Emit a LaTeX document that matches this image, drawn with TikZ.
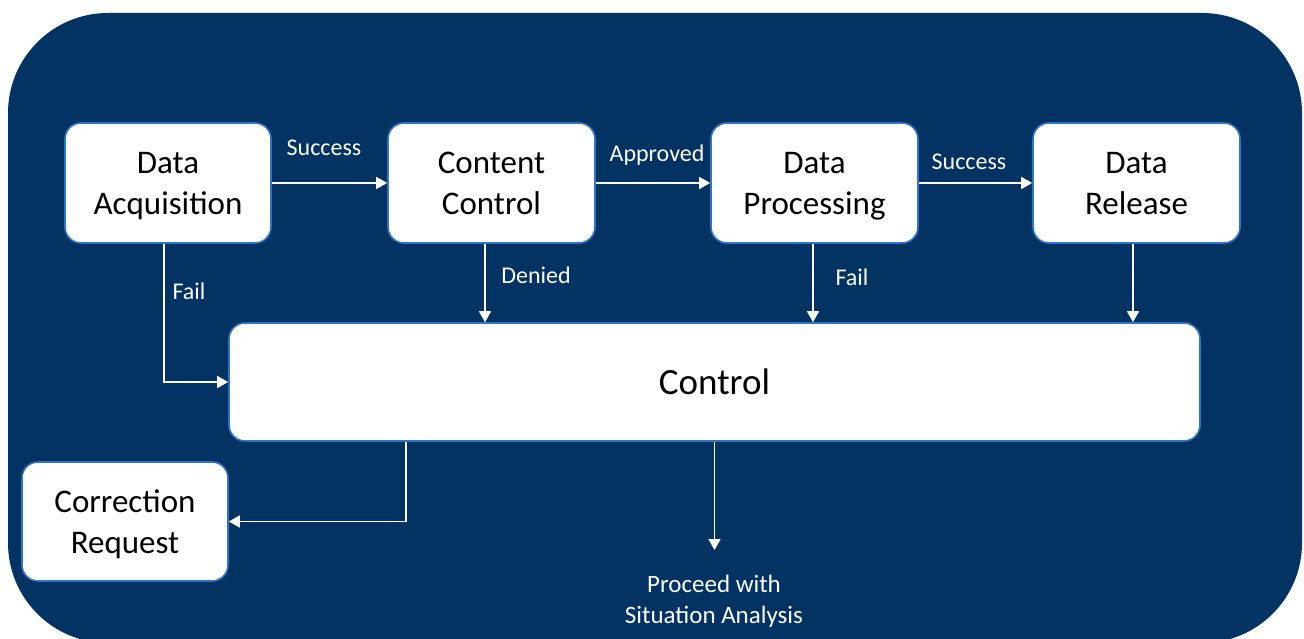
\documentclass[tikz,border=0pt]{standalone}
\usepackage{fontspec}
\setmainfont{Carlito}
\usetikzlibrary{arrows.meta}
\definecolor{navy}{RGB}{3,51,99}
\definecolor{boxblue}{RGB}{46,117,200}
\newcommand\bxs{\rule[-9pt]{0pt}{41pt}}
\tikzset{
  box/.style={draw=boxblue, line width=1.6pt, fill=white, rounded corners=16pt, align=center, text=black, inner sep=0pt,
    font=\fontsize{33}{41}\selectfont},
  arr/.style={draw=white, line width=1.6pt, -{Triangle[width=12pt,length=11pt]}},
  lbl/.style={text=white, font=\fontsize{24}{28}\selectfont, inner sep=0pt},
}
\begin{document}
\begin{tikzpicture}[x=1pt,y=-1pt]
\useasboundingbox (0,0) rectangle (1304,639);
\begin{scope}
\clip (0,0) rectangle (1304,639);
\fill[navy, rounded corners=100pt] (8,13) rectangle (1302,643);
\end{scope}
\node[box, minimum width=206pt, minimum height=120pt] (da) at (168,183) {Data\bxs\\Acquisition\bxs};
\node[box, minimum width=207pt, minimum height=120pt] (cc) at (491.5,183) {Content\bxs\\Control\bxs};
\node[box, minimum width=207pt, minimum height=120pt] (dp) at (814.5,183) {Data\bxs\\Processing\bxs};
\node[box, minimum width=207pt, minimum height=120pt] (dr) at (1136.5,183) {Data\bxs\\Release\bxs};
\node[box, minimum width=971pt, minimum height=118pt, font=\fontsize{37}{44}\selectfont] (ctrl) at (714.5,382) {Control};
\node[box, minimum width=206pt, minimum height=119pt] (cr) at (125,521.5) {Correction\bxs\\Request\bxs};
\coordinate (pend) at (714.5,550);
\node[lbl, align=center, font=\fontsize{25}{31}\selectfont] (proceed) at (714,601) {Proceed with\\Situation Analysis};
\draw[arr] (da) -- (cc);
\draw[arr] (cc) -- (dp);
\draw[arr] (dp) -- (dr);
\draw[arr] ([xshift=-4pt]da.south) |- (ctrl.west);
\draw[arr] ([xshift=-6.5pt]cc.south) -- ([xshift=-6.5pt]cc.south |- ctrl.north);
\draw[arr] ([xshift=-1.5pt]dp.south) -- ([xshift=-1.5pt]dp.south |- ctrl.north);
\draw[arr] ([xshift=-3.5pt]dr.south) -- ([xshift=-3.5pt]dr.south |- ctrl.north);
\draw[arr] ([xshift=-308.5pt]ctrl.south) |- (cr.east);
\draw[arr] (ctrl.south) -- (pend);
\node[lbl] (l1) at (324,148) {Success};
\node[lbl] (l2) at (657,155) {Approved};
\node[lbl] (l3) at (969,162) {Success};
\node[lbl] (l4) at (189,291) {Fail};
\node[lbl] (l5) at (536,275) {Denied};
\node[lbl] (l6) at (852,277) {Fail};
\end{tikzpicture}
\end{document}
